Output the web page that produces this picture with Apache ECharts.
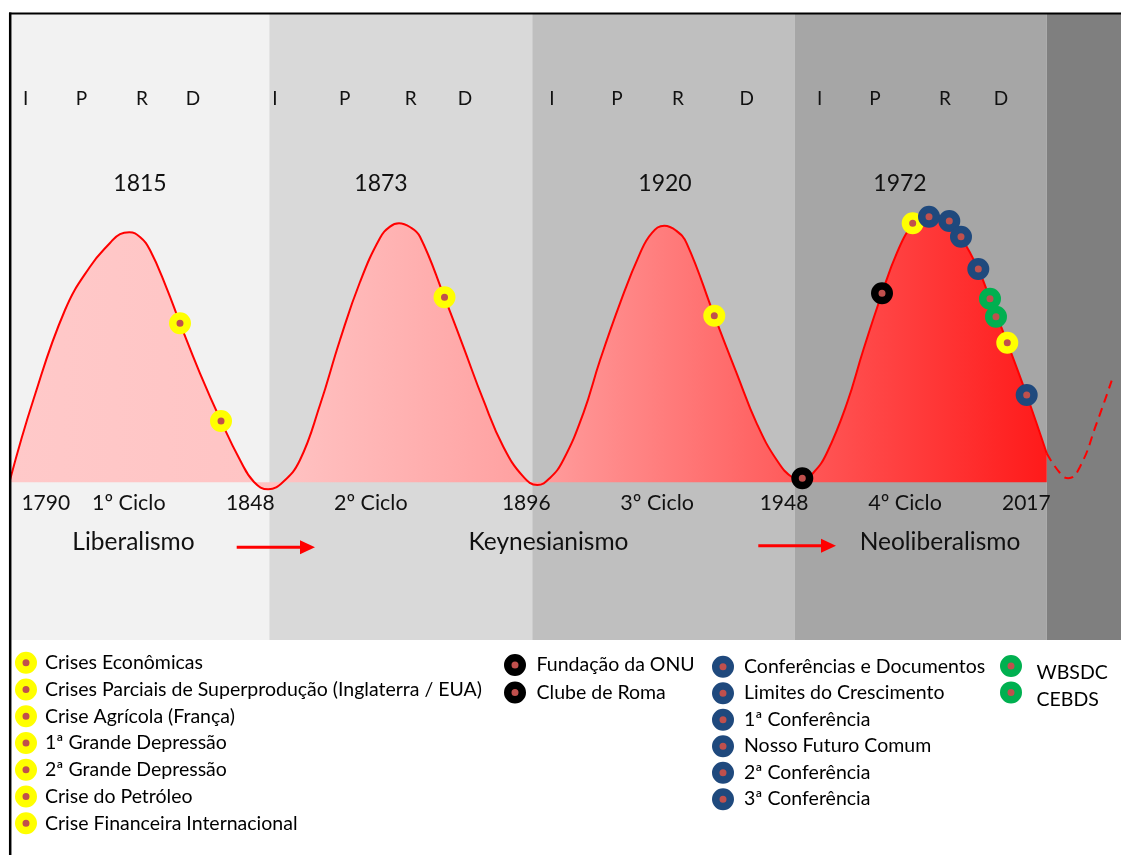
<!DOCTYPE html>
<html><head><meta charset="utf-8">
<script src="https://cdn.jsdelivr.net/npm/echarts@6/dist/echarts.min.js"></script>
<style>html,body{margin:0;padding:0;background:#fff}#c{width:1121px;height:855px}</style>
</head><body><div id="c"></div>
<script>
// ---------- DATA (timeline position: ~100 units per long wave; level: relative activity) ----------
const periodBounds = [0, 99.9, 201.2, 302.4, 399.4, 428];
const waveX = [0, 8.98, 21.19, 30.82, 38.52, 42.38, 45.96, 50.08, 53.93, 60.37, 65.49, 73.19, 81.29, 88.61, 94.0, 99.51,
  105.16, 111.71, 119.42, 127.12, 134.83, 142.54, 146.39, 149.86, 154.06, 157.95, 167.39, 174.63, 182.34, 190.04, 197.74, 203.14,
  208.01, 213.15, 220.86, 227.29, 234.99, 242.7, 247.32, 252.06, 256.55, 260.69, 271.32, 279.95, 287.65, 295.36, 301.76, 305.22,
  309.73, 314.62, 322.33, 328.72, 335.93, 341.59, 347.75, 350.95, 354.42, 358.27, 361.85, 366.36, 373.03, 377.53, 384.19, 391.67, 399.38];
const waveY = [0.9, 32.85, 68.79, 86.08, 95.55, 99.1, 99.82, 97.94, 92.75, 77.46, 63.48, 43.51, 24.46, 8.89, 0.1, -2.82,
  0.1, 8.89, 30.85, 56.82, 79.97, 97.54, 102.1, 103.41, 101.94, 98.06, 73.86, 54.13, 32.85, 14.2, 2.22, -1.1,
  1.7, 8.89, 27.54, 48.7, 71.47, 91.43, 99.62, 102.46, 100.54, 95.43, 66.51, 43.51, 23.54, 8.89, 1.7, 0.9,
  4.09, 11.56, 31.25, 52.82, 75.46, 91.43, 103.41, 106.13, 107.13, 106.37, 104.33, 98.06, 85.16, 73.3, 55.73, 34.84, 11.56];
const forecastX = [399.38, 404.5, 407.7, 412.2, 418.6, 424.4];
const forecastY = [11.56, 3.7, 1.6, 6.2, 23.5, 40.6];

const crisisHeader = 'Crises Econômicas';
const crisisNames = ['Crises Parciais de Superprodução (Inglaterra / EUA)', 'Crise Agrícola (França)',
  '1ª Grande Depressão', '2ª Grande Depressão', 'Crise do Petróleo', 'Crise Financeira Internacional'];
const crisisX = [65.49, 81.29, 167.39, 271.32, 347.75, 384.19];
const crisisY = [63.48, 24.46, 73.86, 66.51, 103.41, 55.73];

const institutionNames = ['Fundação da ONU', 'Clube de Roma'];
const institutionX = [305.22, 335.93];
const institutionY = [1.58, 75.46];

const confHeader = 'Conferências e Documentos';
const confNames = ['Limites do Crescimento', '1ª Conferência', 'Nosso Futuro Comum', '2ª Conferência', '3ª Conferência'];
const confX = [354.04, 361.85, 366.36, 373.03, 391.67];
const confY = [106.05, 104.33, 98.06, 85.16, 34.84];

const businessNames = ['WBSDC', 'CEBDS'];
const businessX = [377.53, 379.84];
const businessY = [73.3, 66.11];

const phaseLabels = ['I', 'P', 'R', 'D'];
const peakYears = ['1815', '1873', '1920', '1972'];
const boundaryYears = ['1790', '1848', '1896', '1948', '2017'];
const cycleNames = ['1º Ciclo', '2º Ciclo', '3º Ciclo', '4º Ciclo'];
const ideologies = ['Liberalismo', 'Keynesianismo', 'Neoliberalismo'];

// ---------- STYLE / LAYOUT ----------
const FONT = 'Lato, "Open Sans", sans-serif';
const bandColors = ['#f2f2f2', '#d9d9d9', '#bfbfbf', '#a6a6a6', '#7f7f7f'];
const DOT = '#c0504d';
const YELLOW = '#ffff00', BLACK = '#000000', BLUE = '#1f497d', GREEN = '#00b050';
const LEGEND_FONT = 19.5;

const zip = (xs, ys) => xs.map((x, i) => [x, ys[i]]);

function eventSeries(name, x, y, ring) {
  return {
    type: 'scatter', name: name, data: (x == null) ? [] : [[x, y]],
    symbol: 'circle', symbolSize: 14.5, z: 6, silent: true,
    itemStyle: { color: DOT, borderColor: ring, borderWidth: 7.5, opacity: 1 }
  };
}

const series = [];
series.push({
  type: 'line', name: 'bands', data: [], z: 1, silent: true,
  markArea: { silent: true, data: [0, 1, 2, 3].map(i => [
    { xAxis: periodBounds[i], itemStyle: { color: bandColors[i], opacity: 1 } },
    { xAxis: periodBounds[i + 1] }]) }
});
series.push({
  type: 'line', name: 'band5', data: [], z: 4, silent: true,
  markArea: { silent: true, data: [[
    { xAxis: periodBounds[4], itemStyle: { color: bandColors[4], opacity: 1 } },
    { xAxis: periodBounds[5] }]] }
});
series.push({
  type: 'line', name: 'wave', data: zip(waveX, waveY), smooth: 0.45, symbol: 'none', z: 5, silent: true,
  lineStyle: { color: '#ff0000', width: 2 },
  areaStyle: { opacity: 1, color: new echarts.graphic.LinearGradient(0, 0, 1, 0, [
    { offset: 0, color: '#ffc9c9' }, { offset: 0.25, color: '#ffc4c4' }, { offset: 0.5, color: '#ffa0a0' },
    { offset: 0.75, color: '#ff5c5c' }, { offset: 1, color: '#ff1a1a' }]) }
});
series.push({
  type: 'line', name: 'forecast', data: zip(forecastX, forecastY), smooth: 0.5, symbol: 'none', z: 5, silent: true,
  lineStyle: { color: '#ff0000', width: 2, type: [9, 6] }
});
series.push(eventSeries(crisisHeader, null, null, YELLOW));
crisisNames.forEach((n, i) => series.push(eventSeries(n, crisisX[i], crisisY[i], YELLOW)));
institutionNames.forEach((n, i) => series.push(eventSeries(n, institutionX[i], institutionY[i], BLACK)));
series.push(eventSeries(confHeader, null, null, BLUE));
confNames.forEach((n, i) => series.push(eventSeries(n, confX[i], confY[i], BLUE)));
businessNames.forEach((n, i) => series.push(eventSeries(n, businessX[i], businessY[i], GREEN)));

function legendCol(names, left, top, gap, itemWidth, extra) {
  return Object.assign({
    data: names, orient: 'vertical', left: left, top: top, itemGap: gap, padding: 0,
    itemWidth: itemWidth, itemHeight: 14.5, icon: 'circle', selectedMode: false,
    itemStyle: { borderWidth: 7.5 },
    textStyle: { fontFamily: FONT, fontSize: LEGEND_FONT, color: '#000', lineHeight: 20 }
  }, extra || {});
}

// ---------- TEXT ANNOTATIONS ----------
const elements = [];
function txt(t, x, y, size, align, z) {
  elements.push({ type: 'text', x: x, y: y, z: z || 3, silent: true,
    style: { text: t, font: size + 'px ' + FONT, fill: '#111', align: align || 'center', verticalAlign: 'middle' } });
}
const phaseXs = [[25.7, 81.4, 142, 193], [275, 344.6, 410.7, 465], [551.8, 617, 677.9, 746.8], [819.6, 875, 945, 1001]];
phaseXs.forEach(row => row.forEach((x, j) => txt(phaseLabels[j], x, 99, 19)));
[140, 381, 665, 900].forEach((x, i) => txt(peakYears[i], x, 183.5, 23));
[45.8, 250.3, 526.3, 784].forEach((x, i) => txt(boundaryYears[i], x, 503.5, 21));
txt(boundaryYears[4], 1002, 503.5, 21, 'left');
[128.8, 370.8, 657.2, 905].forEach((x, i) => txt(cycleNames[i], x, 503.5, 21.5));
[133.5, 548.5, 940].forEach((x, i) => txt(ideologies[i], x, 542, 24.5));
// arrows
[[236.7, 300, 315, 547.3], [758.3, 821, 836, 545.7]].forEach(a => {
  elements.push({ type: 'line', z: 3, silent: true, shape: { x1: a[0], y1: a[3], x2: a[1] + 1, y2: a[3] },
    style: { stroke: '#ff0000', lineWidth: 3 } });
  elements.push({ type: 'polygon', z: 3, silent: true, shape: { points: [[a[1], a[3] - 7], [a[2], a[3]], [a[1], a[3] + 7]] },
    style: { fill: '#ff0000' } });
});
// frame
elements.push({ type: 'line', z: 10, silent: true, shape: { x1: 9, y1: 13.5, x2: 1121, y2: 13.5 }, style: { stroke: '#000', lineWidth: 2 } });
elements.push({ type: 'line', z: 10, silent: true, shape: { x1: 10.2, y1: 12.5, x2: 10.2, y2: 855 }, style: { stroke: '#000', lineWidth: 2.5 } });

const chart = echarts.init(document.getElementById('c'), null, { renderer: 'canvas' });
chart.setOption({
  animation: false,
  backgroundColor: '#ffffff',
  grid: { left: 10, right: 0, top: 14, bottom: 215, containLabel: false },
  xAxis: { type: 'value', min: 0, max: 428, show: false },
  yAxis: { type: 'value', min: -63, max: 187, show: false },
  legend: [
    legendCol([crisisHeader].concat(crisisNames), 15, 651.7, 4.77, 28),
    legendCol(institutionNames, 504, 654, 5.5, 33),
    legendCol([confHeader].concat(confNames), 712, 655.7, 4.5, 32),
    legendCol(businessNames, 1000, 655, -1.6, 41, {
      formatter: '{t|{name}}',
      textStyle: { fontFamily: FONT, fontSize: LEGEND_FONT, color: '#000',
        rich: { t: { fontFamily: FONT, fontSize: LEGEND_FONT, color: '#000', padding: [14, 0, 0, 0] } } }
    })
  ],
  graphic: { elements: elements },
  series: series
});
</script></body></html>
